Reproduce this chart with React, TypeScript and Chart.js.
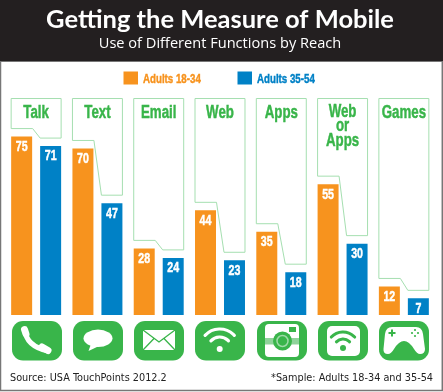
import React, { useEffect, useRef } from "react";
import { Chart, registerables } from "chart.js";

Chart.register(...registerables);

const categories = ["Talk", "Text", "Email", "Web", "Apps", "Web or Apps", "Games"];
const adults1834 = [75, 70, 28, 44, 35, 55, 12];
const adults3554 = [71, 47, 24, 23, 18, 30, 7];
const seriesNames = ["Adults 18-34", "Adults 35-54"];
const titleText = "Getting the Measure of Mobile";
const subtitleText = "Use of Different Functions by Reach";
const sourceText = "Source: USA TouchPoints 2012.2";
const sampleText = "*Sample: Adults 18-34 and 35-54";
const axisMax = 91.2;

const ORANGE = "#f7931e";
const BLUE = "#0081c6";
const GREEN = "#39b54a";
const NARROW = "'Liberation Sans', sans-serif";

type C = CanvasRenderingContext2D;

function rr(c: C, x: number, y: number, w: number, h: number, r: number) {
  c.beginPath();
  c.roundRect(x, y, w, h, r);
}

function narrowText(c: C, t: string, x: number, y: number, sx: number) {
  c.save();
  c.translate(x, y);
  c.scale(sx, 1);
  c.fillText(t, 0, 0);
  c.strokeStyle = c.fillStyle;
  c.lineWidth = 0.45;
  c.strokeText(t, 0, 0);
  c.restore();
}

function wifi(c: C, cx: number, cy: number, col: string, rs: number[], lw: number, dot: number) {
  c.strokeStyle = col;
  c.fillStyle = col;
  c.lineWidth = lw;
  c.lineCap = "round";
  rs.forEach((r) => {
    c.beginPath();
    c.arc(cx, cy, r, -Math.PI / 2 - 0.82, -Math.PI / 2 + 0.82);
    c.stroke();
  });
  c.beginPath();
  c.arc(cx, cy, dot, 0, Math.PI * 2);
  c.fill();
}

const icons: ((c: C) => void)[] = [
  (c) => {
    c.strokeStyle = "#fff";
    c.lineCap = "round";
    c.lineWidth = 5;
    c.beginPath();
    c.moveTo(13, 9);
    c.quadraticCurveTo(14, 25, 36, 30);
    c.stroke();
    c.lineWidth = 7;
    c.beginPath();
    c.moveTo(12.5, 8.5);
    c.lineTo(14, 13);
    c.moveTo(30, 26);
    c.lineTo(36, 29.5);
    c.stroke();
  },
  (c) => {
    c.fillStyle = "#fff";
    c.beginPath();
    c.ellipse(25, 17.3, 14.5, 8.7, 0, 0, Math.PI * 2);
    c.fill();
    c.beginPath();
    c.moveTo(18, 23);
    c.lineTo(15.5, 30);
    c.lineTo(25, 25.5);
    c.closePath();
    c.fill();
  },
  (c) => {
    c.fillStyle = "#fff";
    c.fillRect(9, 9, 32, 20);
    c.strokeStyle = GREEN;
    c.lineWidth = 1.3;
    c.beginPath();
    c.moveTo(9, 9);
    c.lineTo(25, 21);
    c.lineTo(41, 9);
    c.moveTo(9, 29);
    c.lineTo(20, 17.5);
    c.moveTo(41, 29);
    c.lineTo(30, 17.5);
    c.stroke();
  },
  (c) => wifi(c, 24.7, 28, "#fff", [12, 20], 3.2, 3),
  (c) => {
    c.fillStyle = "#fff";
    rr(c, 8, 3, 34, 33, 4);
    c.fill();
    c.fillStyle = "#8fd39a";
    c.fillRect(8, 17, 34, 6.5);
    c.fillStyle = GREEN;
    c.fillRect(32, 6, 7, 5);
    c.beginPath();
    c.arc(25.5, 20, 9.5, 0, Math.PI * 2);
    c.fill();
    c.strokeStyle = "#9fdaa8";
    c.lineWidth = 1.5;
    c.beginPath();
    c.arc(25.5, 20, 5.5, 0, Math.PI * 2);
    c.stroke();
  },
  (c) => {
    c.fillStyle = "#fff";
    rr(c, 9, 5, 33, 30, 5);
    c.fill();
    wifi(c, 25, 27, GREEN, [9, 16], 3, 3);
  },
  (c) => {
    c.fillStyle = "#fff";
    c.beginPath();
    c.moveTo(13, 6);
    c.lineTo(37, 6);
    c.quadraticCurveTo(43, 6, 44, 13);
    c.lineTo(46, 28);
    c.quadraticCurveTo(46, 33, 41, 33);
    c.quadraticCurveTo(38, 33, 35, 28);
    c.quadraticCurveTo(30, 20, 25, 20);
    c.quadraticCurveTo(20, 20, 15, 28);
    c.quadraticCurveTo(12, 33, 9, 33);
    c.quadraticCurveTo(4, 33, 4.5, 28);
    c.lineTo(6, 13);
    c.quadraticCurveTo(7, 6, 13, 6);
    c.closePath();
    c.fill();
    c.fillStyle = GREEN;
    c.fillRect(9.5, 11, 7, 2);
    c.fillRect(12, 8.5, 2, 7);
    [[36, 9], [36, 15], [33, 12], [39, 12]].forEach(([x, y]) => {
      c.beginPath();
      c.arc(x, y, 1.1, 0, Math.PI * 2);
      c.fill();
    });
  },
];

const furniture = {
  id: "furniture",
  beforeDraw(chart: any) {
    const c: C = chart.ctx;
    c.save();
    c.fillStyle = "#fff";
    c.fillRect(0, 0, 443, 392);
    c.fillStyle = "#231f20";
    c.fillRect(0, 0, 443, 61);
    c.strokeStyle = "#777";
    c.lineWidth = 1;
    c.beginPath();
    c.moveTo(0, 61.5);
    c.lineTo(443, 61.5);
    c.stroke();
    c.lineWidth = 1.5;
    c.beginPath();
    c.moveTo(0.5, 61);
    c.lineTo(0.5, 390.5);
    c.lineTo(442.3, 390.5);
    c.lineTo(442.3, 61);
    c.stroke();
    c.restore();
  },
  afterDatasetsDraw(chart: any) {
    const c: C = chart.ctx;
    const y = chart.scales.y;
    const a = chart.getDatasetMeta(0).data;
    const b = chart.getDatasetMeta(1).data;
    const gap = 8;
    c.save();
    c.textBaseline = "middle";

    seriesNames.forEach((name, i) => {
      const x = i ? 237.5 : 123.5;
      const col = i ? BLUE : ORANGE;
      c.fillStyle = col;
      c.fillRect(x, 71.5, 14.5, 13);
      c.textAlign = "left";
      c.font = `bold 13.5px ${NARROW}`;
      narrowText(c, name, x + 19.5, 79, 0.72);
    });

    categories.forEach((name, i) => {
      const l = a[i].x - a[i].width / 2;
      const ar = a[i].x + a[i].width / 2;
      const bl = b[i].x - b[i].width / 2;
      const r = b[i].x + b[i].width / 2;
      const top = y.getPixelForValue(axisMax) + 0.5;
      const oy = y.getPixelForValue(adults1834[i]) - gap;
      const by = y.getPixelForValue(adults3554[i]) - gap;
      c.strokeStyle = "#a5dfb0";
      c.lineWidth = 1;
      c.beginPath();
      c.moveTo(l, top);
      c.lineTo(r, top);
      c.lineTo(r, by);
      c.lineTo(bl, by);
      c.lineTo(ar + 0.5, oy);
      c.lineTo(l, oy);
      c.closePath();
      c.stroke();

      c.fillStyle = GREEN;
      c.textAlign = "center";
      c.font = `bold 17.5px ${NARROW}`;
      const lines = name === "Web or Apps" ? name.split(" ") : [name];
      const cx = (l + r) / 2;
      lines.forEach((t, k) => {
        narrowText(c, t, cx, lines.length > 1 ? top + 13.5 + k * 14.5 : top + 15, 0.76);
      });

      c.fillStyle = "#fff";
      c.font = `bold 14px ${NARROW}`;
      narrowText(c, String(adults1834[i]), a[i].x, a[i].y + 10.5, 0.76);
      narrowText(c, String(adults3554[i]), b[i].x, b[i].y + 10.5, 0.76);

      c.save();
      c.translate(Math.round(cx - 24.6), 321);
      c.fillStyle = GREEN;
      rr(c, 0, 0, 50, 39.5, 11);
      c.fill();
      icons[i](c);
      c.restore();
    });
    c.fillStyle = "#222";
    c.font = `10.8px 'DejaVu Sans Condensed', sans-serif`;
    c.textAlign = "left";
    c.fillText(sourceText, 10, 378);
    c.textAlign = "right";
    c.fillText(sampleText, 433, 378);
    c.restore();
  },
};

export default function App() {
  const ref = useRef<HTMLCanvasElement>(null);
  useEffect(() => {
    const chart = new Chart(ref.current!, {
      type: "bar",
      data: {
        labels: categories,
        datasets: [
          { label: seriesNames[0], data: adults1834, backgroundColor: ORANGE },
          { label: seriesNames[1], data: adults3554, backgroundColor: BLUE },
        ],
      },
      options: {
        responsive: false,
        animation: false,
        categoryPercentage: 0.946,
        barPercentage: 0.724,
        layout: { padding: { left: 5.5, right: 8.5, bottom: 77, top: 0 } },
        scales: {
          x: { display: false },
          y: { display: false, min: 0, max: axisMax },
        },
        plugins: {
          tooltip: { enabled: false },
          legend: { display: false },
          title: {
            display: true,
            text: titleText,
            color: "#fff",
            font: { family: "Lato, sans-serif", size: 25.5, weight: "bold" },
            padding: { top: 4.3, bottom: 0 },
          },
          subtitle: {
            display: true,
            text: subtitleText,
            color: "#fff",
            font: { family: "'Open Sans', sans-serif", size: 14.6, weight: "normal" },
            padding: { top: 0, bottom: 45.6 },
          },
        },
      },
      plugins: [furniture],
    } as any);
    return () => chart.destroy();
  }, []);
  return (
    <div style={{ position: "absolute", left: 0, top: 0, width: 443, height: 392 }}>
      <canvas ref={ref} width={443} height={392} style={{ display: "block" }} />
    </div>
  );
}
